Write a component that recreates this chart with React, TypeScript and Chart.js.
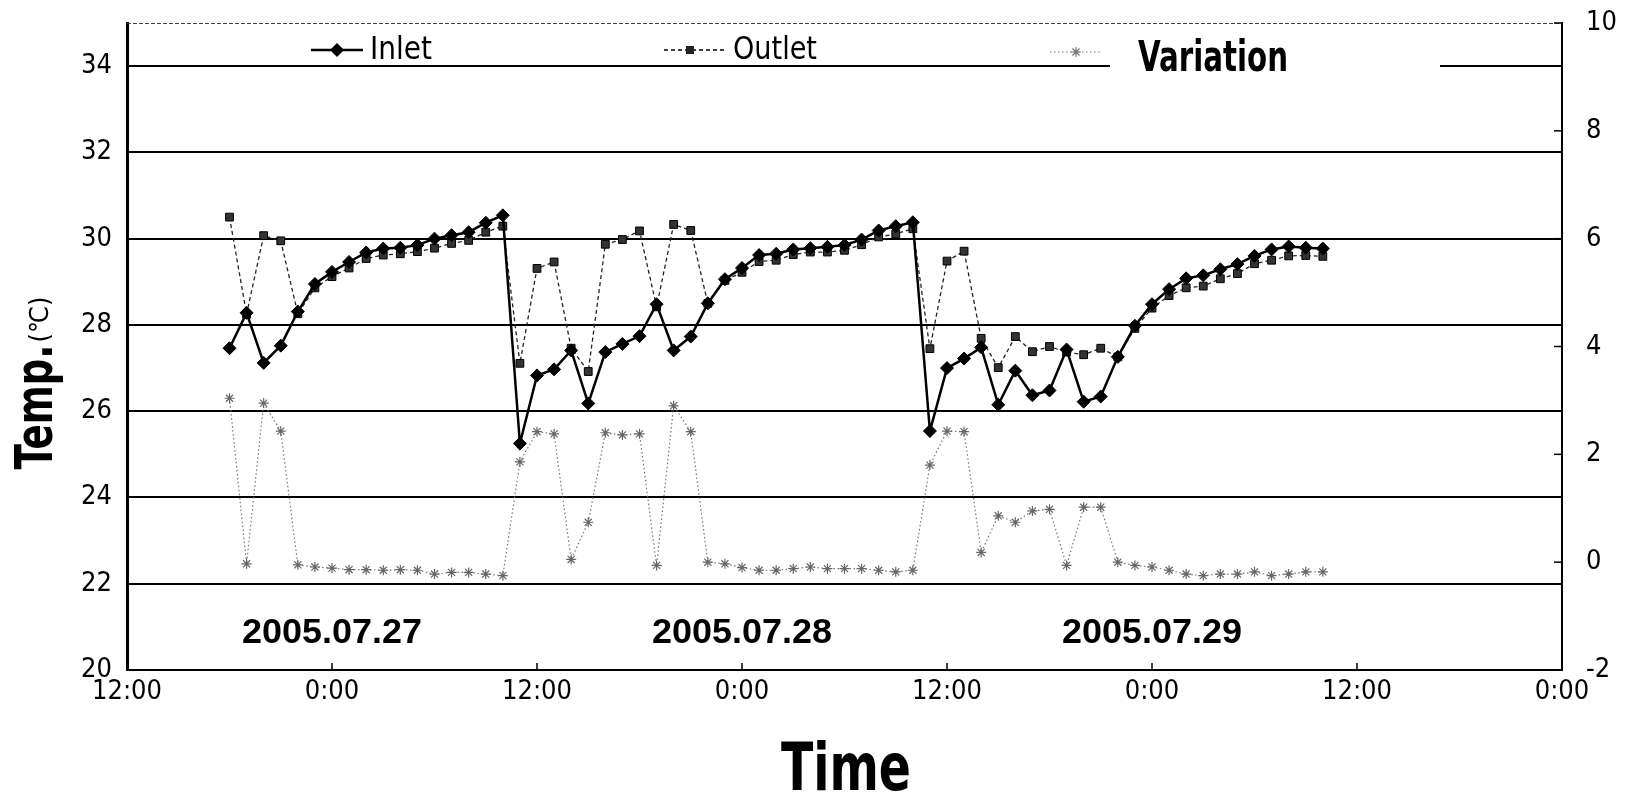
import React, { useEffect, useRef } from "react";
import { Chart, registerables } from "chart.js";

Chart.register(...registerables);

// Hours counted from the first 12:00 on the time axis
const hours = [
  6, 7, 8, 9, 10, 11, 12, 13, 14, 15, 16, 17, 18, 19, 20, 21, 22,
  23, 24, 25, 26, 27, 28, 29, 30, 31, 32, 33, 34, 35, 36, 37, 38, 39, 40, 41, 42, 43, 44, 45, 46,
  47, 48, 49, 50, 51, 52, 53, 54, 55, 56, 57, 58, 59, 60, 61, 62, 63, 64, 65, 66, 67, 68, 69, 70,
];

const inletTemp = [
  27.46, 28.28, 27.12, 27.52, 28.31, 28.95, 29.23, 29.46, 29.68, 29.77, 29.79, 29.85, 30.0, 30.08, 30.15, 30.37, 30.54,
  25.25, 26.83, 26.97, 27.41, 26.18, 27.37, 27.56, 27.74, 28.48, 27.41, 27.73, 28.5, 29.06, 29.32, 29.62, 29.65, 29.75, 29.78, 29.81, 29.85, 29.98, 30.19, 30.29, 30.38,
  25.54, 27.0, 27.22, 27.48, 26.15, 26.94, 26.37, 26.48, 27.43, 26.22, 26.34, 27.26, 27.98, 28.48, 28.83, 29.08, 29.15, 29.29, 29.41, 29.6, 29.75, 29.82, 29.79, 29.77,
];

const outletTemp = [
  30.5, 28.25, 30.07, 29.95, 28.26, 28.86, 29.12, 29.32, 29.54, 29.62, 29.65, 29.7, 29.78, 29.89, 29.96, 30.15, 30.29,
  27.11, 29.31, 29.46, 27.46, 26.92, 29.87, 29.98, 30.18, 28.42, 30.33, 30.19, 28.5, 29.03, 29.22, 29.47, 29.5, 29.63, 29.69, 29.69, 29.73, 29.86, 30.04, 30.11, 30.23,
  27.45, 29.48, 29.71, 27.69, 27.01, 27.73, 27.38, 27.5, 27.37, 27.31, 27.46, 27.26, 27.92, 28.39, 28.68, 28.86, 28.9, 29.07, 29.19, 29.42, 29.5, 29.6, 29.61, 29.59,
];

const variation = [
  3.04, -0.03, 2.95, 2.43, -0.05, -0.09, -0.11, -0.14, -0.14, -0.15, -0.14, -0.15, -0.22, -0.19, -0.19, -0.22, -0.25,
  1.86, 2.42, 2.38, 0.05, 0.74, 2.4, 2.36, 2.38, -0.06, 2.9, 2.42, 0.0, -0.03, -0.1, -0.15, -0.15, -0.12, -0.09, -0.12, -0.12, -0.12, -0.15, -0.18, -0.15,
  1.8, 2.43, 2.42, 0.18, 0.86, 0.74, 0.95, 0.98, -0.06, 1.02, 1.02, 0.0, -0.06, -0.09, -0.15, -0.22, -0.25, -0.22, -0.22, -0.18, -0.25, -0.22, -0.18, -0.18,
];

const xTickLabels = ["12:00", "0:00", "12:00", "0:00", "12:00", "0:00", "12:00", "0:00"];
const leftTicks = [20, 22, 24, 26, 28, 30, 32, 34];
const rightTicks = [-2, 0, 2, 4, 6, 8, 10];
const dateLabels = ["2005.07.27", "2005.07.28", "2005.07.29"];
const dateLabelHours = [12, 36, 60];
const seriesNames = ["Inlet", "Outlet", "Variation"];

const NARROW = '"Liberation Sans Narrow", "DejaVu Sans Condensed", "Liberation Sans", sans-serif';
const SANS = '"Liberation Sans", Arial, sans-serif';

// draw text squeezed horizontally to a given width
function fitText(ctx: any, text: string, x: number, y: number, width: number, align: string) {
  const w = ctx.measureText(text).width;
  const k = width / w;
  ctx.save();
  ctx.translate(x, y);
  ctx.scale(k, 1);
  ctx.textAlign = align;
  ctx.fillText(text, 0, 0);
  ctx.restore();
}

const decorPlugin = {
  id: "decor",
  afterDraw(chart: any) {
    const ctx = chart.ctx;
    const area = chart.chartArea;
    const xs = chart.scales.x;
    const ys = chart.scales.y;
    const y1 = chart.scales.y1;
    ctx.save();

    // dashed top border
    ctx.strokeStyle = "#444";
    ctx.lineWidth = 1;
    ctx.setLineDash([4, 2]);
    ctx.beginPath();
    ctx.moveTo(area.left, area.top + 0.5);
    ctx.lineTo(area.right, area.top + 0.5);
    ctx.stroke();
    ctx.setLineDash([]);

    // inward ticks on right axis
    ctx.strokeStyle = "#000";
    ctx.lineWidth = 1.5;
    rightTicks.forEach((v) => {
      const py = y1.getPixelForValue(v);
      ctx.beginPath();
      ctx.moveTo(area.right, py);
      ctx.lineTo(area.right - 8, py);
      ctx.stroke();
    });
    // inward ticks on bottom axis
    for (let h = 12; h < 84; h += 12) {
      const px = xs.getPixelForValue(h);
      ctx.beginPath();
      ctx.moveTo(px, area.bottom);
      ctx.lineTo(px, area.bottom - 7);
      ctx.stroke();
    }

    // date labels
    ctx.fillStyle = "#000";
    ctx.font = `bold 35px ${SANS}`;
    ctx.textBaseline = "middle";
    dateLabels.forEach((t, i) => {
      fitText(ctx, t, xs.getPixelForValue(dateLabelHours[i]), ys.getPixelForValue(20.85), 180, "center");
    });

    // legend
    const ly = 50;
    // Inlet
    ctx.strokeStyle = "#000";
    ctx.lineWidth = 2.5;
    ctx.beginPath();
    ctx.moveTo(311, ly);
    ctx.lineTo(363, ly);
    ctx.stroke();
    ctx.fillStyle = "#000";
    ctx.beginPath();
    ctx.moveTo(337, ly - 7);
    ctx.lineTo(344, ly);
    ctx.lineTo(337, ly + 7);
    ctx.lineTo(330, ly);
    ctx.closePath();
    ctx.fill();
    ctx.font = `32px ${NARROW}`;
    ctx.textBaseline = "middle";
    fitText(ctx, seriesNames[0], 370, ly + 1, 62, "left");

    // Outlet
    ctx.lineWidth = 1.3;
    ctx.setLineDash([4, 3]);
    ctx.beginPath();
    ctx.moveTo(664, ly);
    ctx.lineTo(726, ly);
    ctx.stroke();
    ctx.setLineDash([]);
    ctx.fillStyle = "#222";
    ctx.fillRect(686, ly - 4, 8, 8);
    ctx.fillStyle = "#000";
    fitText(ctx, seriesNames[1], 733, ly + 1, 84, "left");

    // Variation
    ctx.strokeStyle = "#777";
    ctx.lineWidth = 1.2;
    ctx.setLineDash([1.5, 2.5]);
    ctx.beginPath();
    ctx.moveTo(1050, ly + 2);
    ctx.lineTo(1102, ly + 2);
    ctx.stroke();
    ctx.setLineDash([]);
    const sx = 1076, sy = ly + 2, r = 5;
    ctx.beginPath();
    for (let k = 0; k < 4; k++) {
      const a = (k * Math.PI) / 4;
      ctx.moveTo(sx + r * Math.cos(a), sy + r * Math.sin(a));
      ctx.lineTo(sx - r * Math.cos(a), sy - r * Math.sin(a));
    }
    ctx.stroke();
    ctx.fillStyle = "#fff";
    ctx.fillRect(1110, 38, 330, 42);
    ctx.fillStyle = "#000";
    ctx.font = `bold 42px ${NARROW}`;
    fitText(ctx, seriesNames[2], 1138, 60, 150, "left");

    // axis titles
    ctx.font = `bold 66px ${NARROW}`;
    ctx.textBaseline = "middle";
    fitText(ctx, "Time", 846, 773, 130, "center");

    ctx.save();
    ctx.translate(38, 384);
    ctx.rotate(-Math.PI / 2);
    const w1 = 125, w2 = 46;
    const start = -(w1 + w2) / 2;
    ctx.font = `bold 52px ${NARROW}`;
    fitText(ctx, "Temp.", start, 0, w1, "left");
    ctx.font = `26px ${NARROW}`;
    fitText(ctx, "(℃)", start + w1 + 2, 3, w2, "left");
    ctx.restore();

    ctx.restore();
  },
};

export default function App() {
  const ref = useRef<HTMLCanvasElement | null>(null);

  useEffect(() => {
    if (!ref.current) return;
    const tickFont = { family: NARROW, size: 27 };
    const chart = new Chart(ref.current, {
      type: "line",
      data: {
        datasets: [
          {
            label: seriesNames[0],
            data: hours.map((h, i) => ({ x: h, y: inletTemp[i] })),
            yAxisID: "y",
            borderColor: "#000",
            backgroundColor: "#000",
            borderWidth: 2.5,
            pointStyle: "rectRot",
            pointRadius: 6.5,
            pointBorderWidth: 1,
            pointBorderColor: "#000",
            pointBackgroundColor: "#000",
            tension: 0,
            order: 1,
          },
          {
            label: seriesNames[1],
            data: hours.map((h, i) => ({ x: h, y: outletTemp[i] })),
            yAxisID: "y",
            borderColor: "#222",
            backgroundColor: "#222",
            borderWidth: 1.3,
            borderDash: [4, 3],
            pointStyle: "rect",
            pointRadius: 5.5,
            pointBorderWidth: 1,
            pointBorderColor: "#000",
            pointBackgroundColor: "#333",
            tension: 0,
            order: 2,
          },
          {
            label: seriesNames[2],
            data: hours.map((h, i) => ({ x: h, y: variation[i] })),
            yAxisID: "y1",
            borderColor: "#777",
            backgroundColor: "#777",
            borderWidth: 1.2,
            borderDash: [1.5, 2.5],
            pointStyle: "star",
            pointRadius: 5,
            pointBorderWidth: 1.2,
            pointBorderColor: "#666",
            tension: 0,
            order: 3,
          },
        ],
      },
      options: {
        animation: false,
        responsive: true,
        maintainAspectRatio: false,
        layout: { padding: { top: 23, left: 0, right: 0, bottom: 0 } },
        plugins: { legend: { display: false }, tooltip: { enabled: false } },
        scales: {
          x: {
            type: "linear",
            min: 0,
            max: 84,
            afterBuildTicks: (axis: any) => {
              axis.ticks = xTickLabels.map((_, i) => ({ value: i * 12 }));
            },
            afterFit: (s: any) => {
              s.height = 133;
            },
            ticks: {
              autoSkip: false,
              maxRotation: 0,
              padding: 6,
              color: "#000",
              font: tickFont,
              callback: (_v: any, i: number) => xTickLabels[i],
            },
            grid: { display: false, drawTicks: false },
            border: { display: true, color: "#000", width: 2 },
          },
          y: {
            type: "linear",
            position: "left",
            min: 20,
            max: 35,
            afterBuildTicks: (axis: any) => {
              axis.ticks = leftTicks.map((v) => ({ value: v }));
            },
            afterFit: (s: any) => {
              s.width = 127;
            },
            ticks: { padding: 0, color: "#000", font: tickFont },
            grid: { color: "#000", lineWidth: 2, drawTicks: true, tickLength: 15, tickColor: "rgba(0,0,0,0)" },
            border: { display: true, color: "#000", width: 3 },
          },
          y1: {
            type: "linear",
            position: "right",
            min: -2,
            max: 10,
            afterBuildTicks: (axis: any) => {
              axis.ticks = rightTicks.map((v) => ({ value: v }));
            },
            afterFit: (s: any) => {
              s.width = 65;
            },
            ticks: { padding: 0, color: "#000", font: tickFont },
            grid: { drawOnChartArea: false, drawTicks: true, tickLength: 24, tickColor: "rgba(0,0,0,0)" },
            border: { display: true, color: "#000", width: 2 },
          },
        },
      },
      plugins: [decorPlugin],
    });
    return () => chart.destroy();
  }, []);

  return (
    <div style={{ position: "absolute", left: 0, top: 0, width: 1627, height: 803, background: "#fff" }}>
      <canvas ref={ref} />
    </div>
  );
}
